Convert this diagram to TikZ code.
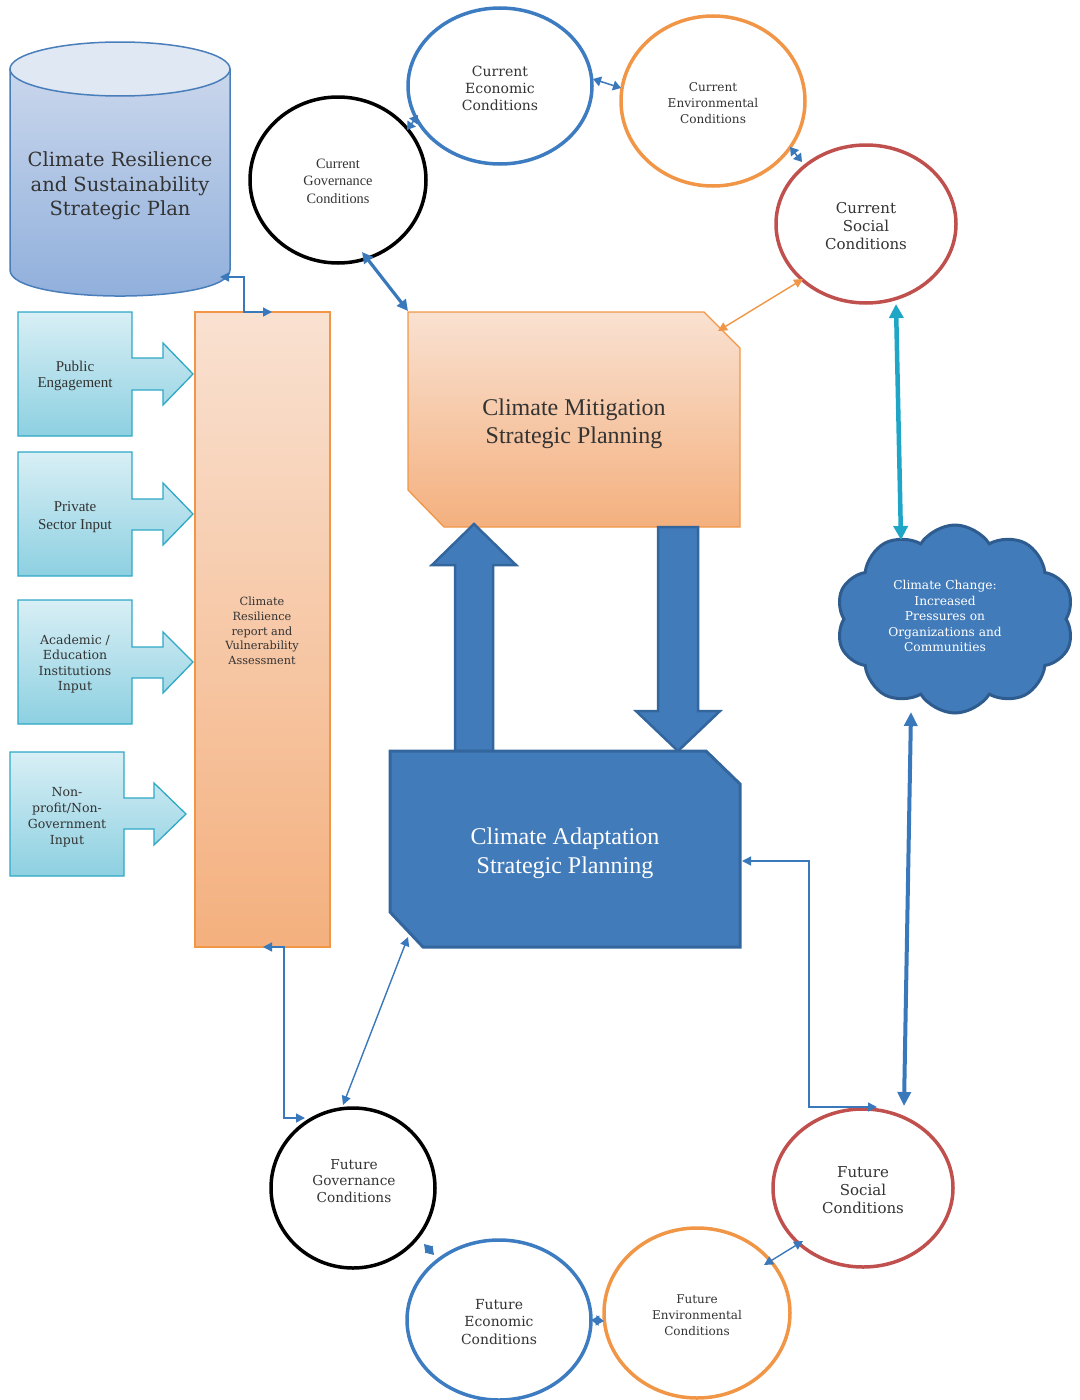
\documentclass[tikz,border=0pt]{standalone}
\usepackage{fontspec}
\setmainfont{DejaVu Serif}
\newfontfamily\tnr{Liberation Serif}
\usetikzlibrary{shapes.geometric,shapes.symbols,arrows.meta,calc}
\definecolor{cblue}{HTML}{3D7CC0}
\definecolor{corange}{HTML}{F19646}
\definecolor{cred}{HTML}{C0504D}
\definecolor{cteal}{HTML}{1FA6C6}
\definecolor{ablue}{HTML}{3A78BC}
\definecolor{boxblue}{HTML}{427BBA}
\definecolor{boxedge}{HTML}{34669E}
\definecolor{cloudedge}{HTML}{2E5C8E}
\definecolor{txt}{HTML}{333333}
\definecolor{cylTop}{HTML}{E0E8F4}
\definecolor{cylA}{HTML}{CAD7EC}
\definecolor{cylB}{HTML}{8EAEDB}
\definecolor{cylEdge}{HTML}{4A7EBB}
\definecolor{orA}{HTML}{F9E1D1}
\definecolor{orB}{HTML}{F4B07E}
\definecolor{cyA}{HTML}{D8EFF5}
\definecolor{cyB}{HTML}{8DD0E1}
\definecolor{cyEdge}{HTML}{2FA8C6}
\tikzset{
  circ/.style={ellipse, line width=3.5pt, inner sep=0pt},
  lbl/.style={align=center, text=txt, inner sep=0pt},
  callout/.style={draw=cyEdge, line width=1.3pt, top color=cyA, bottom color=cyB},
  thinconn/.style={draw=ablue, line width=1.4pt, {Triangle[length=9pt,width=9pt]}-{Triangle[length=9pt,width=9pt]}},
  thickconn/.style={draw=ablue, line width=3.2pt, {Triangle[length=11pt,width=11pt]}-{Triangle[length=11pt,width=11pt]}},
  tinyconn/.style={draw=ablue, line width=1.5pt, {Triangle[length=8pt,width=10pt]}-{Triangle[length=8pt,width=10pt]}},
  bigarrow/.style={fill=boxblue, draw=boxedge, line width=2.5pt, line join=miter}
}
\begin{document}
\begin{tikzpicture}[x=1pt,y=-1pt]
\useasboundingbox (0,0) rectangle (1079,1400);

% ---------- cylinder ----------
\path[draw=cylEdge, line width=1.5pt, top color=cylA, bottom color=cylB]
  (10,69) -- (10,270) .. controls (10,304.7) and (230,304.7) .. (230,270) -- (230,69) -- cycle;
\path[draw=cylEdge, line width=1.5pt, fill=cylTop] (120,69) ellipse [x radius=110, y radius=27];
\node[lbl, font=\fontsize{19.5}{24.5}\selectfont] (plan) at (120,186) {Climate Resilience\\and Sustainability\\Strategic Plan};
\coordinate (planP) at (220,277);

% ---------- current circles ----------
\node[circ, draw=black, minimum width=176pt, minimum height=166pt] (cg) at (338,180) {};
\node[lbl, font=\tnr\fontsize{14.3}{17.5}\selectfont] (cgt) at (338,181) {Current\\Governance\\Conditions};
\node[circ, draw=cblue, minimum width=184pt, minimum height=156pt] (ce) at (500,86) {};
\node[lbl, font=\fontsize{14}{17}\selectfont] (cet) at (500,88) {Current\\Economic\\Conditions};
\node[circ, draw=corange, minimum width=184pt, minimum height=170pt] (cenv) at (713,101) {};
\node[lbl, font=\fontsize{12.1}{16}\selectfont] (cenvt) at (713,103) {Current\\Environmental\\Conditions};
\node[circ, draw=cred, minimum width=180pt, minimum height=158pt] (cs) at (866,224) {};
\node[lbl, font=\fontsize{15}{18}\selectfont] (cst) at (866,226) {Current\\Social\\Conditions};

% ---------- mitigation box ----------
\path[draw=corange, line width=1.3pt, top color=orA, bottom color=orB]
  (408,312) -- (704,312) -- (740,348) -- (740,527) -- (444,527) -- (408,490) -- cycle;
\node[lbl, font=\tnr\fontsize{24}{28.5}\selectfont] (mit) at (574,424) {Climate Mitigation\\Strategic Planning};
\coordinate (mitTL) at (408,311);
\coordinate (mitTR) at (718,331);

% ---------- tall rectangle ----------
\node[draw=corange, line width=1.3pt, top color=orA, bottom color=orB, minimum width=135pt, minimum height=635pt, inner sep=0pt] (vul) at (262.5,629.5) {};
\node[lbl, font=\fontsize{11.3}{14.7}\selectfont] (vult) at (262,631) {Climate\\Resilience\\report and\\Vulnerability\\Assessment};
\coordinate (vulT) at (272,312);
\coordinate (vulB) at (263,947);

% ---------- input callouts ----------
\path[callout] (18,312) -- (132,312) -- (132,358) -- (163,358) -- (163,343) -- (193,374) -- (163,405) -- (163,390) -- (132,390) -- (132,436) -- (18,436) -- cycle;
\node[lbl, font=\tnr\fontsize{15}{16.5}\selectfont] (pe) at (75,376) {Public\\Engagement};
\path[callout] (18,452) -- (132,452) -- (132,499) -- (163,499) -- (163,483) -- (193,514) -- (163,545) -- (163,530) -- (132,530) -- (132,576) -- (18,576) -- cycle;
\node[lbl, font=\tnr\fontsize{15}{18}\selectfont] (ps) at (75,517) {Private\\Sector Input};
\path[callout] (18,600) -- (132,600) -- (132,647) -- (163,647) -- (163,632) -- (193,662) -- (163,693) -- (163,678) -- (132,678) -- (132,724) -- (18,724) -- cycle;
\node[lbl, font=\fontsize{12.5}{15.6}\selectfont] (ac) at (75,664) {Academic /\\Education\\Institutions\\Input};
\path[callout] (10,752) -- (124,752) -- (124,798) -- (154,798) -- (154,783) -- (186,814) -- (154,845) -- (154,829) -- (124,829) -- (124,876) -- (10,876) -- cycle;
\node[lbl, font=\fontsize{12.5}{16}\selectfont] (np) at (67,817) {Non-\\profit/Non-\\Government\\Input};

% ---------- big arrows ----------
\path[bigarrow] (455,751) -- (455,565) -- (432,565) -- (474,524) -- (516,565) -- (493,565) -- (493,751) -- cycle;
\path[bigarrow] (658,527) -- (698,527) -- (698,711) -- (720,711) -- (678,751) -- (636,711) -- (658,711) -- cycle;

% ---------- adaptation box ----------
\path[fill=boxblue, draw=boxedge, line width=3pt]
  (390,751) -- (706,751) -- (740,784) -- (740,947) -- (423,947) -- (390,912) -- cycle;
\node[lbl, text=white, font=\tnr\fontsize{24}{29}\selectfont] (adp) at (565,853) {Climate Adaptation\\Strategic Planning};
\coordinate (adpR) at (742,861);
\coordinate (adpBL) at (408,937);

% ---------- cloud ----------
\node[cloud, cloud puffs=10, cloud puff arc=115, aspect=1.3, draw=cloudedge, fill=boxblue, line width=3pt, minimum width=238pt, minimum height=188pt, inner sep=0pt] (cc) at (955,619) {};
\node[lbl, text=white, font=\fontsize{12.2}{15.5}\selectfont] (cct) at (945,616) {Climate Change:\\Increased\\Pressures on\\Organizations and\\Communities};
\coordinate (ccT) at (901,540);
\coordinate (ccB) at (911,712);

% ---------- future circles ----------
\node[circ, draw=black, minimum width=164pt, minimum height=160pt] (fg) at (353,1188) {};
\node[lbl, font=\fontsize{13.7}{16.5}\selectfont] (fgt) at (354,1181) {Future\\Governance\\Conditions};
\node[circ, draw=cblue, minimum width=184pt, minimum height=160pt] (fe) at (499,1320) {};
\node[lbl, font=\fontsize{13.9}{17.5}\selectfont] (fet) at (499,1322) {Future\\Economic\\Conditions};
\node[circ, draw=corange, minimum width=186pt, minimum height=170pt] (fenv) at (697,1313) {};
\node[lbl, font=\fontsize{12}{16}\selectfont] (fenvt) at (697,1315) {Future\\Environmental\\Conditions};
\node[circ, draw=cred, minimum width=180pt, minimum height=158pt] (fs) at (863,1188) {};
\node[lbl, font=\fontsize{15}{18}\selectfont] (fst) at (863,1190) {Future\\Social\\Conditions};

% ---------- connectors ----------
\draw[thinconn] (planP) -- ($(planP)+(24,0)$) |- (vulT);
\draw[thickconn] ($(cg.center)+(24,72)$) -- (mitTL);
\draw[tinyconn] ($(cg.center)+(69,-50)$) -- ($(cg.center)+(80,-65)$);
\draw[tinyconn] ($(ce.center)+(93,-7)$) -- ($(cenv.center)+(-92,-13)$);
\draw[tinyconn] ($(cenv.center)+(77,46)$) -- ($(cenv.center)+(89,61)$);
\draw[draw=corange, line width=1.4pt, {Triangle[length=9pt,width=9pt]}-{Triangle[length=9pt,width=9pt]}] (mitTR) -- ($(cs.center)+(-63,55)$);
\draw[draw=cteal, line width=4.5pt, {Triangle[length=14pt,width=14pt]}-{Triangle[length=14pt,width=14pt]}] ($(cs.center)+(30,80)$) -- (ccT);
\draw[draw=ablue, line width=4pt, {Triangle[length=14pt,width=13pt]}-{Triangle[length=14pt,width=13pt]}] (ccB) -- ($(fs.center)+(41,-82)$);
\draw[thinconn] (adpR) -- ($(adpR)+(67,0)$) |- ($(fs.center)+(14,-81)$);
\draw[thinconn] (vulB) -- ($(vulB)+(21,0)$) |- ($(fg.center)+(-48,-70)$);
\draw[thinconn] (adpBL) -- ($(fg.center)+(-10,-83)$);
\draw[tinyconn] ($(fg.center)+(71,56)$) -- ($(fg.center)+(81,67)$);
\draw[tinyconn] ($(fe.center)+(92,0)$) -- ($(fenv.center)+(-93,8)$);
\draw[thinconn] ($(fenv.center)+(67,-48)$) -- ($(fs.center)+(-60,53)$);
\end{tikzpicture}
\end{document}
